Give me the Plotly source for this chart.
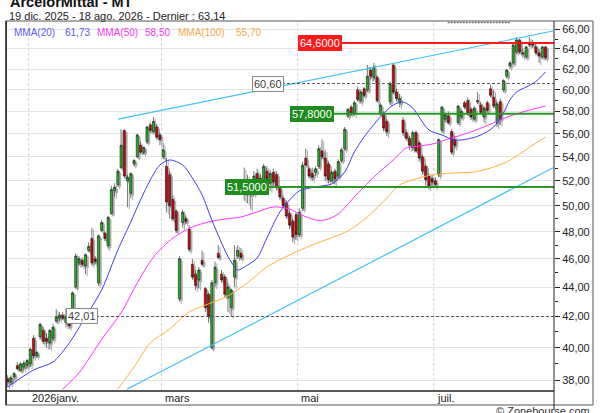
import math
import pandas as pd
import plotly.graph_objects as go

# ---------------- data ----------------
holidays = ['2025-12-25', '2025-12-26', '2026-01-01', '2026-04-03', '2026-04-06', '2026-05-01']
dates = [d for d in pd.bdate_range('2025-12-19', '2026-08-18') if d.strftime('%Y-%m-%d') not in holidays]

opens = [38.1, 37.9, 38.2, 38.9, 38.6, 38.8, 38.9, 39.0, 40.6, 39.5,
         40.7, 41.1, 40.6, 40.3, 40.6, 41.7, 41.9, 42.1, 41.6, 41.8,
         42.5, 44.0, 45.7, 45.9, 45.5, 46.6, 47.5, 46.0, 44.3, 48.1,
         47.9, 46.95, 49.4, 51.2, 51.7, 53.1, 56.3, 52.0, 51.0, 53.4,
         54.0, 55.0, 54.4, 55.3, 56.8, 56.2, 56.6, 55.9, 54.0, 53.2,
         52.5, 50.5, 49.6, 43.2, 48.7, 49.0, 48.2, 45.6, 44.9, 44.5,
         45.9, 43.9, 43.5, 40.0, 44.3, 46.4, 44.9, 44.7, 43.3, 42.6,
         44.7, 46.2, 46.4, 51.0, 51.6, 51.0, 51.0, 52.6, 52.2, 51.6,
         52.8, 51.8, 52.7, 52.5, 51.4, 50.6, 50.2, 49.4, 48.8, 49.3,
         47.8, 49.8, 53.9, 53.0, 52.6, 52.7, 53.2, 54.5, 53.9, 53.4,
         52.0, 52.8, 52.4, 53.7, 54.7, 57.6, 58.4, 57.9, 60.0, 59.0,
         60.1, 60.0, 61.9, 61.2, 61.2, 57.8, 57.8, 57.1, 58.9, 62.4,
         59.8, 58.8, 57.2, 56.1, 55.6, 54.8, 56.1, 55.2, 54.0, 53.2,
         52.4, 52.2, 52.0, 52.5, 56.3, 57.3, 57.6, 56.2, 55.5, 57.0,
         57.5, 58.8, 59.0, 58.2, 57.3, 59.0, 58.6, 57.5, 58.8, 60.1,
         59.3, 57.0, 58.9, 60.0, 61.3, 62.3, 62.6, 63.7, 64.9, 63.6,
         63.2, 64.6, 64.6, 64.2, 63.6, 63.2, 64.2]
highs = [38.3, 38.3, 38.5, 39.1, 39.1, 39.2, 39.3, 40.0, 40.8, 39.8,
         41.6, 41.3, 40.9, 41.2, 41.5, 42.5, 42.3, 42.3, 42.5, 41.9,
         43.7, 46.4, 46.2, 46.1, 46.4, 47.2, 48.3, 46.2, 47.8, 48.9,
         48.0, 49.2, 51.6, 51.8, 53.0, 56.4, 56.4, 52.5, 52.7, 53.8,
         56.0, 55.3, 54.9, 56.7, 57.0, 57.5, 56.8, 56.1, 55.2, 53.9,
         52.8, 50.8, 49.7, 46.2, 49.7, 49.2, 48.5, 46.0, 45.2, 45.4,
         46.6, 44.0, 43.6, 44.5, 45.8, 47.0, 45.2, 44.9, 44.3, 43.9,
         47.0, 47.0, 46.8, 53.1, 52.5, 51.9, 52.8, 53.0, 52.6, 53.4,
         53.2, 52.9, 53.0, 52.8, 51.6, 50.8, 50.4, 49.6, 49.0, 49.5,
         49.8, 53.6, 54.7, 53.2, 53.1, 53.2, 55.0, 55.5, 54.6, 53.6,
         52.9, 53.0, 53.8, 54.8, 56.6, 58.3, 58.6, 59.0, 60.3, 60.0,
         60.3, 62.4, 62.2, 62.6, 61.4, 58.8, 58.0, 57.3, 60.8, 62.6,
         60.1, 59.6, 57.5, 56.4, 55.8, 56.3, 56.3, 55.4, 54.2, 53.4,
         52.6, 52.5, 52.3, 55.6, 58.5, 57.9, 58.0, 56.4, 55.8, 58.6,
         58.2, 59.0, 59.3, 58.4, 58.5, 59.8, 58.9, 58.5, 59.0, 60.5,
         60.0, 58.9, 59.2, 61.0, 62.0, 62.8, 64.5, 65.2, 65.0, 64.0,
         64.3, 65.2, 64.9, 64.5, 64.0, 64.3, 64.3]
lows = [37.6, 37.7, 38.0, 38.6, 38.5, 38.6, 38.7, 38.8, 39.3, 39.4,
        40.5, 40.2, 40.0, 39.9, 40.4, 41.6, 41.7, 41.8, 41.3, 41.2,
        42.4, 43.9, 45.5, 45.4, 44.9, 46.5, 45.5, 45.6, 44.1, 48.0,
        47.3, 46.7, 49.3, 50.7, 51.5, 53.0, 52.2, 49.9, 50.6, 53.2,
        53.9, 54.3, 54.2, 55.1, 56.1, 56.0, 55.5, 55.0, 53.8, 49.5,
        49.0, 48.8, 47.9, 43.0, 48.3, 48.6, 46.5, 44.5, 43.8, 43.9,
        45.5, 42.3, 41.6, 39.9, 44.0, 46.0, 44.3, 43.3, 42.3, 42.0,
        44.0, 46.0, 45.9, 50.4, 50.2, 49.7, 50.8, 51.9, 51.6, 51.2,
        51.8, 51.2, 51.6, 51.2, 50.5, 49.8, 49.0, 48.2, 47.2, 47.4,
        47.6, 49.6, 53.2, 52.2, 52.0, 52.4, 53.0, 53.8, 52.0, 51.8,
        51.9, 51.7, 52.2, 53.5, 54.5, 57.4, 57.6, 57.6, 58.9, 58.7,
        59.3, 59.8, 61.0, 60.8, 58.8, 57.6, 56.2, 55.8, 58.6, 59.6,
        58.9, 58.4, 55.8, 55.4, 54.6, 54.5, 54.4, 53.6, 52.5, 51.6,
        51.3, 51.6, 51.4, 52.3, 56.1, 57.0, 56.8, 54.2, 54.7, 56.8,
        57.3, 58.2, 57.6, 57.2, 57.1, 58.7, 57.7, 57.0, 57.9, 59.3,
        58.3, 56.6, 56.8, 59.8, 61.1, 62.0, 62.4, 63.5, 63.5, 63.1,
        63.0, 64.2, 64.1, 63.4, 62.6, 63.0, 62.9]
closes = [37.9, 38.15, 38.4, 38.7, 39.0, 39.05, 39.2, 39.9, 39.5, 39.7,
          41.5, 40.4, 40.4, 41.1, 41.3, 42.0, 42.1, 41.9, 42.0, 41.4,
          43.6, 46.2, 46.0, 45.6, 46.3, 46.9, 45.7, 45.8, 47.7, 48.7,
          47.5, 49.1, 51.3, 51.5, 52.8, 55.0, 52.4, 52.3, 52.6, 53.7,
          55.9, 54.4, 54.8, 56.6, 56.3, 57.1, 55.7, 55.5, 54.6, 50.3,
          50.0, 49.0, 48.1, 46.0, 49.5, 48.8, 46.7, 44.7, 44.1, 45.2,
          45.6, 42.6, 42.0, 44.3, 45.4, 46.1, 44.5, 43.5, 44.0, 43.8,
          45.9, 46.6, 46.1, 51.6, 51.0, 50.9, 52.4, 52.0, 51.8, 53.2,
          52.2, 52.6, 51.9, 51.5, 50.7, 50.0, 49.2, 48.5, 47.6, 47.8,
          49.5, 53.3, 53.3, 52.4, 52.3, 53.0, 54.7, 54.0, 52.4, 52.1,
          52.7, 52.2, 53.6, 54.6, 56.4, 58.2, 57.8, 58.8, 59.1, 59.8,
          59.5, 61.3, 61.3, 62.2, 59.0, 58.6, 56.5, 56.2, 60.6, 59.8,
          59.2, 59.2, 56.1, 55.6, 55.0, 56.1, 54.5, 53.9, 52.8, 52.1,
          51.6, 51.9, 51.7, 55.5, 58.4, 57.7, 57.0, 54.4, 55.0, 58.5,
          58.0, 58.4, 57.8, 57.5, 58.3, 58.9, 57.9, 58.3, 58.1, 59.5,
          58.5, 58.7, 57.3, 60.9, 61.9, 62.6, 64.4, 64.9, 63.7, 63.5,
          64.2, 64.4, 64.4, 63.6, 63.3, 64.2, 63.14]

# moving averages (trading-day index, value)
mma20_idx = [0, 8, 14, 19, 24, 29, 34, 38, 41, 44, 47, 50, 54, 57, 60, 63, 67, 69, 71, 74, 77, 80, 84, 87,
             90, 95, 100, 104, 107, 110, 115, 119, 122, 125, 127, 130, 134, 138, 142, 146, 150, 153, 155,
             157, 160, 163, 166]
mma20 = [37.60, 38.62, 39.11, 40.29, 41.98, 43.80, 46.64, 48.75, 50.46, 52.07, 53.32, 53.74, 53.32, 52.24,
         50.86, 48.90, 46.64, 45.77, 45.20, 45.55, 46.06, 47.53, 49.52, 50.46, 51.18, 51.51, 51.75, 52.73,
         54.42, 55.72, 57.49, 58.59, 58.87, 58.32, 57.49, 56.33, 55.89, 55.45, 55.54, 55.89, 56.60, 57.86,
         59.06, 59.80, 60.27, 60.80, 61.73]
mma50_idx = [17, 22, 29, 35, 40, 45, 51, 57, 62, 67, 72, 77, 82, 87, 90, 95, 98, 102, 107, 113, 119, 123,
             127, 131, 137, 142, 147, 152, 156, 160, 166]
mma50 = [37.47, 38.44, 40.52, 42.25, 44.29, 46.13, 47.53, 48.36, 48.74, 48.97, 49.13, 49.52, 49.91, 49.75,
         49.36, 48.90, 48.90, 49.36, 50.70, 52.32, 53.73, 54.76, 54.93, 55.10, 55.63, 56.07, 56.60, 57.23,
         57.68, 58.04, 58.50]
mma100_idx = [34, 39, 44, 50, 56, 62, 68, 74, 80, 87, 94, 105, 111, 117, 121, 127, 131, 138, 144, 149,
              154, 159, 163, 166]
mma100 = [37.47, 38.80, 40.29, 41.19, 42.31, 42.85, 43.39, 44.29, 45.42, 46.28, 47.01, 48.06, 49.13, 50.62,
          51.67, 52.24, 52.48, 52.65, 52.73, 53.06, 53.57, 54.42, 55.19, 55.70]

# trend lines (index, price)
trend_up_idx = [34.1, 168.3]
trend_up = [57.31, 65.82]
trend_dn_idx = [36.8, 168.3]
trend_dn = [37.47, 53.09]

# horizontal levels
lvl_red = 64.60
lvl_green_hi = 57.80
lvl_green_lo = 51.50
lvl_dash_hi = 60.60
lvl_dash_lo = 42.01
lvl_top_dot = 66.69
last_close = 63.14
zone_low = 58.00

month_labels = ['2026janv.', 'mars', 'mai', 'juil.']
month_keys = ['2026-01', '2026-03', '2026-05', '2026-07']
ytick_vals = list(range(38, 67, 2))
ytick_text = ['%d,00' % v for v in ytick_vals]
ma_labels = [('MMA(20)', '61,73', '#5b5bf0'), ('MMA(50)', '58,50', '#f03cf0'), ('MMA(100)', '55,70', '#f5aa50')]

# ---------------- geometry helpers ----------------
N = len(closes)
idx = list(range(N))
W, H = 600, 413
ML, MR, MT, MB = 7, 46, 21, 22
PW, PH = W - ML - MR, H - MT - MB
XR = [-0.2, 168.6]
SHX = 0.55          # shadow shift (in candle slots)
YLO, YHI = 37.364, 66.867
XEND = XR[1]

def px(xp):
    return (xp - ML) / PW

def py(yp):
    return (H - MB - yp) / PH

month_idx = []
for k in month_keys:
    for i, d in enumerate(dates):
        if d.strftime('%Y-%m') == k:
            month_idx.append(i - 0.5)
            break

FONT = 'Liberation Sans'
fig = go.Figure()

# candle shadow (base x axis, shifted range)
sh = math.exp(-2.0 / 635.8)
fig.add_trace(go.Candlestick(
    x=idx, open=[v * sh for v in opens], high=[v * sh for v in highs],
    low=[v * sh for v in lows], close=[v * sh for v in closes],
    increasing=dict(line=dict(color='#ababab', width=1), fillcolor='#ababab'),
    decreasing=dict(line=dict(color='#ababab', width=1), fillcolor='#ababab'),
    hoverinfo='skip', showlegend=False, xaxis='x'))

def line_tr(x, y, color, width, dash='solid', shape='linear'):
    fig.add_trace(go.Scatter(x=x, y=y, mode='lines', xaxis='x2',
                             line=dict(color=color, width=width, dash=dash, shape=shape, smoothing=0.8)
                             if shape == 'spline' else dict(color=color, width=width, dash=dash),
                             showlegend=False, hoverinfo='skip'))

# trend lines
line_tr(trend_up_idx, trend_up, '#3cc3f5', 1.2)
line_tr(trend_dn_idx, trend_dn, '#3cc3f5', 1.2)

# moving averages
line_tr(mma100_idx, mma100, '#ffb040', 1, shape='spline')
line_tr(mma50_idx, mma50, '#ff33ff', 1, shape='spline')
line_tr(mma20_idx, mma20, '#3c3cff', 1, shape='spline')

# candles
fig.add_trace(go.Candlestick(
    x=idx, open=opens, high=highs, low=lows, close=closes, xaxis='x2',
    increasing=dict(line=dict(color='#1a1a1a', width=0.6), fillcolor='#1cc01c'),
    decreasing=dict(line=dict(color='#1a1a1a', width=0.6), fillcolor='#e00000'),
    hoverinfo='skip', showlegend=False))

# horizontal levels
line_tr([18.0, XEND], [lvl_dash_lo] * 2, '#555555', 1, '3px,2px')
line_tr([75.4, XEND], [lvl_dash_hi] * 2, '#555555', 1, '3px,2px')
line_tr([67.1, XEND], [lvl_green_lo] * 2, '#2a962a', 2)
line_tr([87.1, XEND], [lvl_green_hi] * 2, '#2a962a', 2)
line_tr([89.6, XEND], [lvl_red] * 2, '#ff1a1a', 2)
line_tr([135.8, 155.0], [lvl_top_dot] * 2, '#444444', 1, '2px,1px')

L = math.log10
shapes = []
# month grid lines
for mi in month_idx:
    shapes.append(dict(type='line', xref='x2', yref='paper', x0=mi, x1=mi, y0=0, y1=1,
                       line=dict(color='#d6d6d6', width=1, dash='3px,2px'), layer='below'))
# right zones
zx0 = 164.3
shapes.append(dict(type='rect', xref='x2', yref='y', x0=zx0, x1=XEND, y0=L(last_close), y1=L(YHI),
                   fillcolor='rgba(150,235,190,0.45)', line=dict(width=0), layer='above'))
shapes.append(dict(type='line', xref='x2', yref='y', x0=zx0, x1=zx0, y0=L(last_close), y1=L(YHI),
                   line=dict(color='#77e070', width=2), layer='above'))
shapes.append(dict(type='rect', xref='x2', yref='y', x0=zx0, x1=XEND, y0=L(zone_low), y1=L(last_close),
                   fillcolor='rgba(255,150,150,0.38)', line=dict(width=0), layer='above'))
shapes.append(dict(type='line', xref='x2', yref='y', x0=zx0, x1=zx0, y0=L(zone_low), y1=L(last_close),
                   line=dict(color='#ff8080', width=1), layer='above'))
shapes.append(dict(type='line', xref='x2', yref='y', x0=zx0, x1=XEND, y0=L(last_close), y1=L(last_close),
                   line=dict(color='#ff2020', width=2), layer='above'))
# frame
shapes.append(dict(type='rect', xref='paper', yref='paper', x0=px(5.5), x1=px(593), y0=py(405), y1=py(21),
                   line=dict(color='#555555', width=1)))
shapes.append(dict(type='line', xref='paper', yref='paper', x0=px(6), x1=px(554), y0=py(391), y1=py(391),
                   line=dict(color='#222222', width=1.5)))
shapes.append(dict(type='line', xref='paper', yref='paper', x0=px(554), x1=px(554), y0=py(410), y1=py(21),
                   line=dict(color='#222222', width=1)))
shapes.append(dict(type='line', xref='paper', yref='paper', x0=px(6.5), x1=px(6.5), y0=py(405), y1=py(21),
                   line=dict(color='#333333', width=1)))

ann = []
ann.append(dict(xref='paper', yref='paper', x=px(8), y=py(2), xanchor='left', yanchor='middle', showarrow=False,
                text='<b>ArcelorMittal - MT</b>', font=dict(family=FONT, size=14.5, color='#111111')))
ann.append(dict(xref='paper', yref='paper', x=px(7), y=py(15.5), xanchor='left', yanchor='middle', showarrow=False,
                text='19 dic. 2025 - 18 ago. 2026 - Dernier : 63,14', font=dict(family=FONT, size=11, color='#222222')))
xpos = [(12, 63), (95, 143), (176, 234)]
for (labt, val, col), (xa, xb) in zip(ma_labels, xpos):
    ann.append(dict(xref='paper', yref='paper', x=px(xa), y=py(32), xanchor='left', yanchor='middle', showarrow=False,
                    text=labt, font=dict(family=FONT, size=10, color=col)))
    ann.append(dict(xref='paper', yref='paper', x=px(xb), y=py(32), xanchor='left', yanchor='middle', showarrow=False,
                    text=val, font=dict(family=FONT, size=10, color=col)))
for labt, mi in zip(month_labels, month_idx):
    ann.append(dict(xref='x2', yref='paper', x=mi, y=py(398.5), xanchor='left', yanchor='middle', showarrow=False,
                    text=labt, font=dict(family=FONT, size=11, color='#222222'), xshift=1))

def lab(xi, val, text, bg, fg, border):
    ann.append(dict(xref='x2', yref='y', x=xi, y=L(val), xanchor='left', yanchor='middle', showarrow=False,
                    text=text, bgcolor=bg, bordercolor=border, borderwidth=1, borderpad=1,
                    font=dict(family=FONT, size=11, color=fg)))

lab(18.0, lvl_dash_lo, '42,01', '#ffffff', '#444444', '#888888')
lab(75.4, lvl_dash_hi, '60,60', '#ffffff', '#444444', '#888888')
lab(67.1, lvl_green_lo, '51,5000', '#1e8c1e', '#ffffff', '#1e8c1e')
lab(87.1, lvl_green_hi, '57,8000', '#1e8c1e', '#ffffff', '#1e8c1e')
lab(89.6, lvl_red, '64,6000', '#ff1a1a', '#ffffff', '#ff1a1a')
ann.append(dict(xref='paper', yref='paper', x=px(592), y=py(411), xanchor='right', yanchor='middle', showarrow=False,
                text='© Zonebourse.com', font=dict(family=FONT, size=11, color='#333333')))

fig.update_layout(
    width=W, height=H, margin=dict(l=ML, r=MR, t=MT, b=MB, autoexpand=False),
    paper_bgcolor='white', plot_bgcolor='white', showlegend=False,
    shapes=shapes, annotations=ann, boxgap=0.1,
    xaxis=dict(range=[XR[0] - SHX, XR[1] - SHX], visible=False, showgrid=False, zeroline=False,
               rangeslider=dict(visible=False), fixedrange=True),
    xaxis2=dict(range=XR, overlaying='x', visible=False, showgrid=False, zeroline=False,
                rangeslider=dict(visible=False), fixedrange=True),
    yaxis=dict(type='log', range=[L(YLO), L(YHI)], side='right', tickvals=ytick_vals, ticktext=ytick_text,
               ticks='outside', ticklen=5, tickcolor='#222222', showline=False, fixedrange=True,
               tickfont=dict(family=FONT, size=11, color='#222222'), gridcolor='#e4e4e4', gridwidth=1,
               zeroline=False,
               minor=dict(tickvals=list(range(39, 66, 2)), ticks='outside', ticklen=3, tickcolor='#222222', showgrid=False)),
)

fig.write_html('out.html', config={'displayModeBar': False, 'staticPlot': True},
               post_script="document.body.style.margin='0px';document.body.style.overflow='hidden';")
